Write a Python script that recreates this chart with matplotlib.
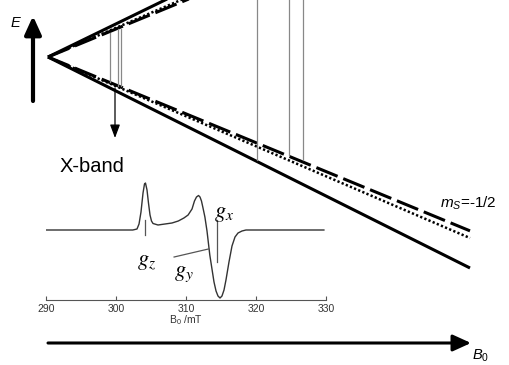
import numpy as np
import matplotlib.pyplot as plt

plt.rcParams['font.family'] = 'Liberation Sans'
plt.rcParams['mathtext.fontset'] = 'custom'
plt.rcParams['mathtext.rm'] = 'Liberation Sans'
plt.rcParams['mathtext.it'] = 'Liberation Sans:italic'

# Zeeman levels, drawn in pixel units of the diagram (y grows downward)
origin = (48, 57)
x_end = 470
level_styles = ['solid', 'dashed', 'dotted']
upper_slopes = [0.487, 0.412, 0.429]
lower_slopes = [0.500, 0.412, 0.429]

# resonance transitions (x, top, bottom)
trans_x = [110, 118, 121, 257, 289, 303]
trans_top = [33, 29, 29, 0, 0, 0]
trans_bot = [82, 86, 86, 160, 155, 160]

# X-band spectrum: field in mT, derivative signal
spec_B = [290.0, 302.4, 303.0, 303.29, 303.57, 303.86, 304.07, 304.21, 304.43,
          304.64, 304.86, 305.07, 305.29, 306.0, 307.0, 308.0, 308.9, 309.7,
          310.3, 310.86, 311.21, 311.5, 311.79, 312.0, 312.21, 312.43, 312.7,
          313.0, 313.4, 314.0, 314.29, 314.57, 314.86, 315.14, 315.43, 315.71,
          316.14, 316.57, 317.0, 317.43, 318.0, 318.57, 329.7]
spec_I = [0, 0, 1, 6, 18, 37, 46, 47, 40,
          27, 15, 9, 6.5, 5, 6, 7, 9, 12,
          15, 21, 29, 33, 34.5, 33, 29, 22, 13,
          -1, -25, -52, -61, -66, -68, -66, -60, -50,
          -32, -16, -7, -3, -1, 0, 0]
field_ticks = [290, 300, 310, 320, 330]

g_names = ['$g_z$', '$g_y$', '$g_x$']
g_text_B = [304.3, 309.7, 315.4]
g_text_I = [-32, -44, 17]

fig = plt.figure(figsize=(5.09, 3.65), dpi=100)
ax = fig.add_axes([0, 0, 1, 1])
ax.set_xlim(0, 509)
ax.set_ylim(365, 0)
ax.axis('off')

x = np.array([origin[0], x_end])
for style, su, sl in zip(level_styles, upper_slopes, lower_slopes):
    kw = dict(color='black', solid_capstyle='butt')
    if style == 'solid':
        kw.update(lw=2.2)
    elif style == 'dashed':
        kw.update(lw=2.2, dashes=(7.5, 2))
    else:
        kw.update(lw=1.8, dashes=(0.9, 0.9))
    ax.plot(x, origin[1] - su * (x - origin[0]), **kw)
    ax.plot(x, origin[1] + sl * (x - origin[0]), **kw)

for tx, t0, t1 in zip(trans_x, trans_top, trans_bot):
    ax.plot([tx, tx], [t0, t1], color='#888888', lw=0.9)

# arrows
ax.annotate('', xy=(115, 138), xytext=(115, 88),
            arrowprops=dict(arrowstyle='-|>,head_length=0.8,head_width=0.3',
                            mutation_scale=10, lw=0.9, color='black',
                            shrinkA=0, shrinkB=0))
ax.annotate('', xy=(33, 16), xytext=(33, 101),
            arrowprops=dict(arrowstyle='-|>,head_length=0.55,head_width=0.25',
                            mutation_scale=20, lw=3, color='black',
                            shrinkA=0, shrinkB=0))
ax.annotate('', xy=(471, 343), xytext=(48, 343),
            arrowprops=dict(arrowstyle='-|>,head_length=0.55,head_width=0.25',
                            mutation_scale=20, lw=2.2, color='black',
                            shrinkA=0, shrinkB=0))

ax.text(15, 23, 'E', fontsize=10.5, style='italic', ha='center', va='center')
ax.text(472, 364, '$B_0$', fontsize=10.5, ha='left', va='bottom')
ax.text(60, 171.5, 'X-band', fontsize=14.5, ha='left', va='baseline')
ax.text(440, 208, '$m_S$=-1/2', fontsize=11, ha='left', va='baseline')

# inset spectrum
ax2 = fig.add_axes([46 / 509, (365 - 300) / 365, 280 / 509, 130 / 365])
ax2.patch.set_visible(False)
ax2.set_xlim(290, 330)
ax2.set_ylim(-70, 60)
ax2.plot(spec_B, spec_I, color='#333333', lw=1.0)
ax2.plot([304.2, 304.2], [10, -5], color='#555555', lw=0.9)
ax2.plot([314.4, 314.4], [10, -32], color='#555555', lw=0.9)
ax2.plot([308.3, 313.2], [-27, -19], color='#555555', lw=0.9)
for name, gb, gi in zip(g_names, g_text_B, g_text_I):
    ax2.text(gb, gi, name, fontsize=16, ha='center', va='center',
             math_fontfamily='stix')

for side in ['top', 'left', 'right']:
    ax2.spines[side].set_visible(False)
ax2.spines['bottom'].set_color('#555555')
ax2.spines['bottom'].set_linewidth(0.8)
ax2.set_yticks([])
ax2.set_xticks(field_ticks)
ax2.tick_params(axis='x', direction='in', length=3, width=0.8, color='#555555',
                labelsize=7.5, pad=3, labelcolor='#333333')
ax2.set_xlabel('B$_0$ /mT', fontsize=7.5, labelpad=-1, color='#333333')

fig.savefig('out.png', dpi=100)
